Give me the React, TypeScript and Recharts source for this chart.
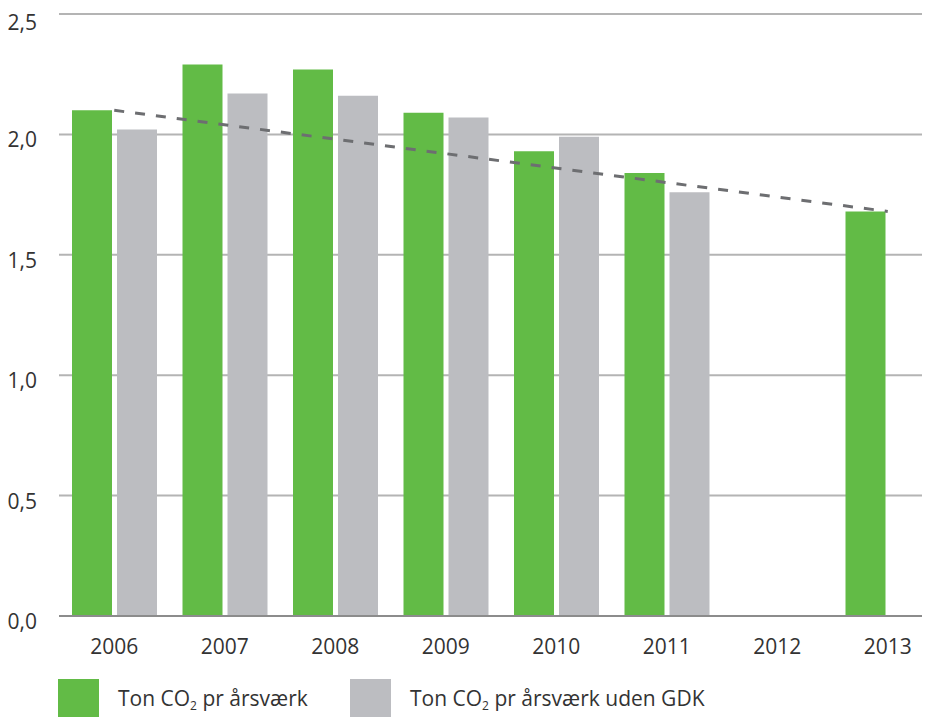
import { ComposedChart, Bar, Line, XAxis, YAxis, CartesianGrid } from "recharts";

const years = ["2006", "2007", "2008", "2009", "2010", "2011", "2012", "2013"];
const perFte = [2.1, 2.29, 2.27, 2.09, 1.93, 1.84, null, 1.68];
const perFteExGdk = [2.02, 2.17, 2.16, 2.07, 1.99, 1.76, null, null];
// trend only has its two end points, joined across the gap
const trend = [2.1, null, null, null, null, null, null, 1.68];
const yTicks = [0, 0.5, 1, 1.5, 2, 2.5];

const GREEN = "#62bb46";
const GREY = "#bcbdc1";
const FONT = "'Open Sans', sans-serif";

const data = years.map((year, i) => ({
  year,
  perFte: perFte[i],
  perFteExGdk: perFteExGdk[i],
  trend: trend[i],
}));

const fmt = (v: number) => v.toFixed(1).replace(".", ",");

const YTick = ({ x, y, payload }: any) => (
  <text x={x - 14} y={y + 13} textAnchor="end" fill="#333" fontSize={21} fontFamily={FONT}>
    {fmt(payload.value)}
  </text>
);

const LegendItem = ({ color, label }: { color: string; label: string }) => (
  <div style={{ display: "flex", alignItems: "center", marginRight: 20 }}>
    <div style={{ width: 41, height: 40, background: color, marginRight: 19 }} />
    <span style={{ fontSize: 21, color: "#333", fontFamily: FONT, whiteSpace: "nowrap" }}>
      Ton CO<sub style={{ fontSize: 12, verticalAlign: "-4px" }}>2</sub> {label}
    </span>
  </div>
);

const App = () => {
  return (
    <div style={{ width: 922, overflow: "hidden", fontFamily: FONT }}>
      <ComposedChart
        width={935}
        height={660}
        data={data}
        margin={{ top: 6, right: 0, bottom: 0, left: 0 }}
        barSize={40}
        barGap={5}
      >
        <CartesianGrid vertical={false} stroke="#b4b4b4" strokeWidth={2} />
        <XAxis
          dataKey="year"
          height={52}
          tickLine={false}
          tickSize={0}
          tickMargin={23}
          axisLine={{ stroke: "#8c8c8c", strokeWidth: 2 }}
          tick={{ fill: "#333", fontSize: 21, fontFamily: FONT }}
        />
        <YAxis
          width={51}
          domain={[0, 2.5]}
          ticks={yTicks}
          axisLine={false}
          tickLine={false}
          tick={<YTick />}
        />
        <Bar dataKey="perFte" fill={GREEN} isAnimationActive={false} />
        <Bar dataKey="perFteExGdk" fill={GREY} isAnimationActive={false} />
        <Line
          dataKey="trend"
          stroke="#6d6e71"
          strokeWidth={3}
          strokeDasharray="10 11"
          dot={false}
          activeDot={false}
          connectNulls
          legendType="none"
          isAnimationActive={false}
        />
      </ComposedChart>
      <div style={{ display: "flex", marginTop: 11, paddingLeft: 50 }}>
        <div style={{ width: 292 }}>
          <LegendItem color={GREEN} label="pr årsværk" />
        </div>
        <LegendItem color={GREY} label="pr årsværk uden GDK" />
      </div>
    </div>
  );
};

export default App;
